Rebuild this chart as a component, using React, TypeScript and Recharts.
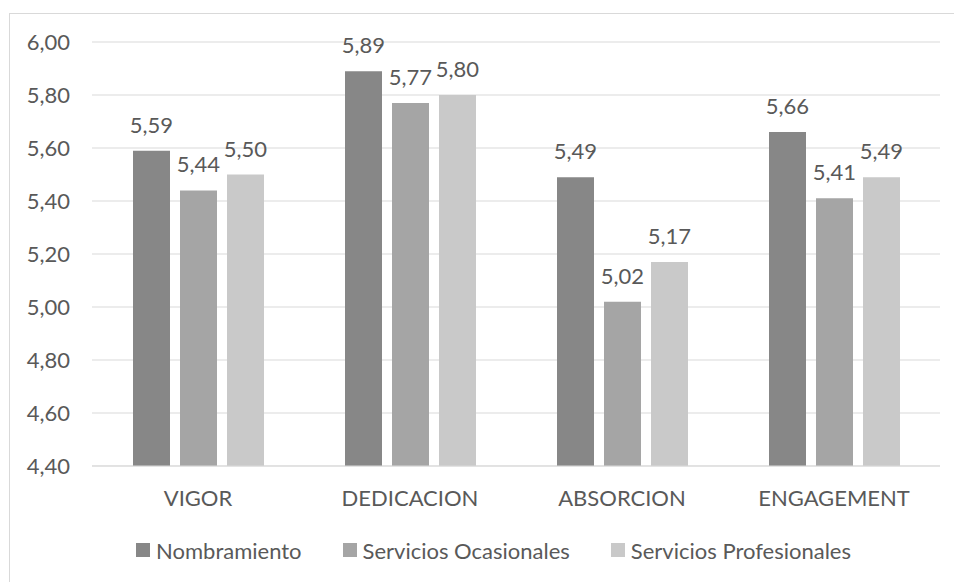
import { Bar, BarChart, CartesianGrid, LabelList, Legend, XAxis, YAxis } from 'recharts'

const CATEGORIES = ['VIGOR', 'DEDICACION', 'ABSORCION', 'ENGAGEMENT']
const NOMBRAMIENTO = [5.59, 5.89, 5.49, 5.66]
const OCASIONALES = [5.44, 5.77, 5.02, 5.41]
const PROFESIONALES = [5.5, 5.8, 5.17, 5.49]
const Y_TICKS = [4.4, 4.6, 4.8, 5.0, 5.2, 5.4, 5.6, 5.8, 6.0]

const SERIES = [
  { key: 'nombramiento', name: 'Nombramiento', color: '#878787' },
  { key: 'ocasionales', name: 'Servicios Ocasionales', color: '#a5a5a5' },
  { key: 'profesionales', name: 'Servicios Profesionales', color: '#c9c9c9' },
]

const TEXT = '#595959'
const GRID = '#d9d9d9'
const FONT = 'Lato, "Liberation Sans", sans-serif'
const FONT_SIZE = 22

const fmt = (v: number | string) => Number(v).toFixed(2).replace('.', ',')

function LegendContent() {
  return (
    <div
      style={{
        display: 'flex',
        justifyContent: 'center',
        alignItems: 'center',
        height: 24,
        gap: 41,
        paddingLeft: 37,
        fontFamily: FONT,
        fontSize: FONT_SIZE,
        color: TEXT,
      }}
    >
      {SERIES.map((s) => (
        <div key={s.key} style={{ display: 'flex', alignItems: 'center', gap: 6 }}>
          <span style={{ width: 14, height: 14, background: s.color, display: 'inline-block' }} />
          <span>{s.name}</span>
        </div>
      ))}
    </div>
  )
}

export default function App() {
  const rows = CATEGORIES.map((c, i) => ({
    name: c,
    nombramiento: NOMBRAMIENTO[i],
    ocasionales: OCASIONALES[i],
    profesionales: PROFESIONALES[i],
  }))

  return (
    <div
      style={{
        position: 'absolute',
        left: 9,
        top: 13,
        width: 945,
        height: 569,
        borderTop: `1px solid ${GRID}`,
        borderLeft: `1px solid ${GRID}`,
        boxSizing: 'border-box',
        background: '#fff',
      }}
    >
      <BarChart
        width={944}
        height={568}
        data={rows}
        margin={{ top: 28, right: 14, left: 0, bottom: 20 }}
        barSize={37}
        barGap={10}
        style={{ fontFamily: FONT }}
      >
        <CartesianGrid stroke={GRID} vertical={false} />
        <XAxis
          dataKey="name"
          height={72}
          tickSize={0}
          tickLine={false}
          tickMargin={24}
          axisLine={{ stroke: GRID }}
          tick={{ fill: TEXT, fontSize: FONT_SIZE, fontFamily: FONT }}
        />
        <YAxis
          width={82}
          domain={[4.4, 6.0]}
          ticks={Y_TICKS}
          tickFormatter={fmt}
          tickSize={0}
          tickLine={false}
          tickMargin={22}
          axisLine={false}
          tick={{ fill: TEXT, fontSize: FONT_SIZE, fontFamily: FONT }}
        />
        <Legend verticalAlign="bottom" height={24} content={<LegendContent />} />
        {SERIES.map((s) => (
          <Bar key={s.key} dataKey={s.key} name={s.name} fill={s.color} isAnimationActive={false}>
            <LabelList
              dataKey={s.key}
              position="top"
              offset={18}
              formatter={fmt}
              fill={TEXT}
              fontSize={FONT_SIZE}
              fontFamily={FONT}
            />
          </Bar>
        ))}
      </BarChart>
    </div>
  )
}
